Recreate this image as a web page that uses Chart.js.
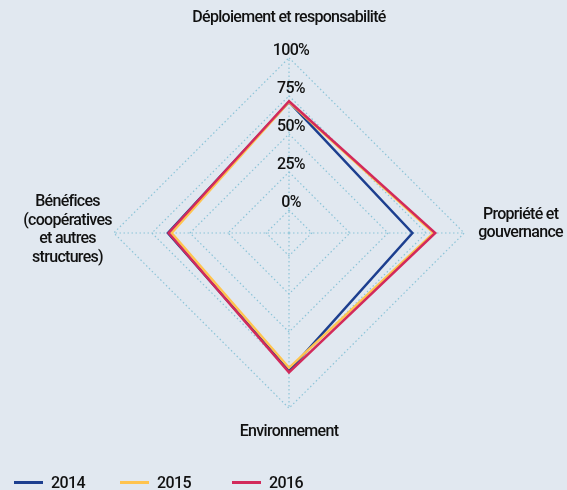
<!DOCTYPE html>
<html lang="fr">
<head>
<meta charset="utf-8">
<script src="https://cdn.jsdelivr.net/npm/chart.js@4.4.1/dist/chart.umd.min.js"></script>
<style>
  body { margin: 0; background: #e1e8f0; }
  #cadre { position: relative; width: 567px; height: 490px; overflow: hidden; }
  #legende { position: absolute; left: 14px; top: 473px; display: flex;
    font: 500 16px Roboto, sans-serif; letter-spacing: -0.6px; color: #111; }
  #legende span { display: flex; align-items: center; }
  #legende i { display: inline-block; width: 29px; height: 3px; margin-right: 8px; }
</style>
</head>
<body>
<div id="cadre">
  <canvas id="graphique" width="567" height="490"></canvas>
  <div id="legende"></div>
</div>
<script>
const axes = [
  'Déploiement et responsabilité',
  ['Propriété et', 'gouvernance'],
  'Environnement',
  ['Bénéfices', '(coopératives', 'et autres', 'structures)']
];
const annees = ['2014', '2015', '2016'];
const couleurs = ['#1d3f8f', '#ffc44f', '#d22a5b'];
const valeurs2014 = [71, 66, 75.5, 64.5];
const valeurs2015 = [71, 80, 73.5, 62];
const valeurs2016 = [71.5, 81, 76.5, 64];
const graduations = [0, 25, 50, 75, 100];

const police = 'Roboto, sans-serif';
const grille = '#8cc4d8';
// petits ajustements des étiquettes d'axes
const decalageX = [0, -2, 0, 7];
const decalageY = [0, -9, 3, -3];

function prepareTexte(ctx) {
  ctx.font = '500 16px ' + police;
  ctx.letterSpacing = '-0.7px';
  ctx.fillStyle = '#111';
  ctx.textAlign = 'center';
  ctx.textBaseline = 'middle';
}

// étiquettes des graduations, un peu au-dessus des anneaux
const etiquettesGraduation = {
  id: 'etiquettesGraduation',
  afterDatasetsDraw(chart) {
    const r = chart.scales.r;
    const ctx = chart.ctx;
    ctx.save();
    prepareTexte(ctx);
    graduations.forEach(v => {
      const d = r.getDistanceFromCenterForValue(v);
      ctx.fillText(v + '%', r.xCenter + 2, r.yCenter - d - 7);
    });
    ctx.restore();
  }
};

// étiquettes des axes, centrées, ancrées du côté de l'axe
const etiquettesAxes = {
  id: 'etiquettesAxes',
  afterDraw(chart) {
    const r = chart.scales.r;
    const ctx = chart.ctx;
    ctx.save();
    prepareTexte(ctx);
    axes.forEach((lab, i) => {
      const pos = r.getPointLabelPosition(i);
      const lignes = Array.isArray(lab) ? lab : [lab];
      const larg = Math.max(...lignes.map(l => ctx.measureText(l).width));
      const h = (pos.bottom - pos.top) / lignes.length;
      let x = (pos.left + pos.right) / 2;
      if (i === 1) x = pos.left + larg / 2;
      if (i === 3) x = pos.right - larg / 2;
      lignes.forEach((l, j) => {
        ctx.fillText(l, x + decalageX[i], pos.top + h * (j + 0.5) + decalageY[i]);
      });
    });
    ctx.restore();
  }
};

const donnees = [valeurs2014, valeurs2015, valeurs2016];

new Chart(document.getElementById('graphique'), {
  type: 'radar',
  data: {
    labels: axes,
    datasets: annees.map((a, i) => ({
      label: a,
      data: donnees[i],
      borderColor: couleurs[i],
      backgroundColor: couleurs[i],
      borderWidth: 2.5,
      fill: false,
      pointRadius: 0,
      pointHoverRadius: 0,
      order: annees.length - i
    }))
  },
  options: {
    responsive: false,
    animation: false,
    layout: { padding: { left: 16, right: 0, top: -1, bottom: 41 } },
    plugins: { legend: { display: false }, tooltip: { enabled: false } },
    scales: {
      r: {
        min: -15,
        max: 100,
        ticks: { display: false, stepSize: 25 },
        grid: { color: grille, lineWidth: 1.2, borderDash: [1.5, 2.5] },
        border: { dash: [1.5, 2.5] },
        angleLines: { color: grille, lineWidth: 1.2, borderDash: [1.5, 2.5] },
        pointLabels: {
          color: 'rgba(0,0,0,0)',
          font: { family: police, size: 12, lineHeight: '18.8px' },
          padding: ctx => [30, 16, 11, 9][ctx.index]
        }
      }
    }
  },
  plugins: [etiquettesGraduation, etiquettesAxes]
});

const legende = document.getElementById('legende');
const largeurs = [106, 112, 80];
annees.forEach((a, i) => {
  const s = document.createElement('span');
  s.style.width = largeurs[i] + 'px';
  s.innerHTML = '<i style="background:' + couleurs[i] + '"></i>' + a;
  legende.appendChild(s);
});
</script>
</body>
</html>
